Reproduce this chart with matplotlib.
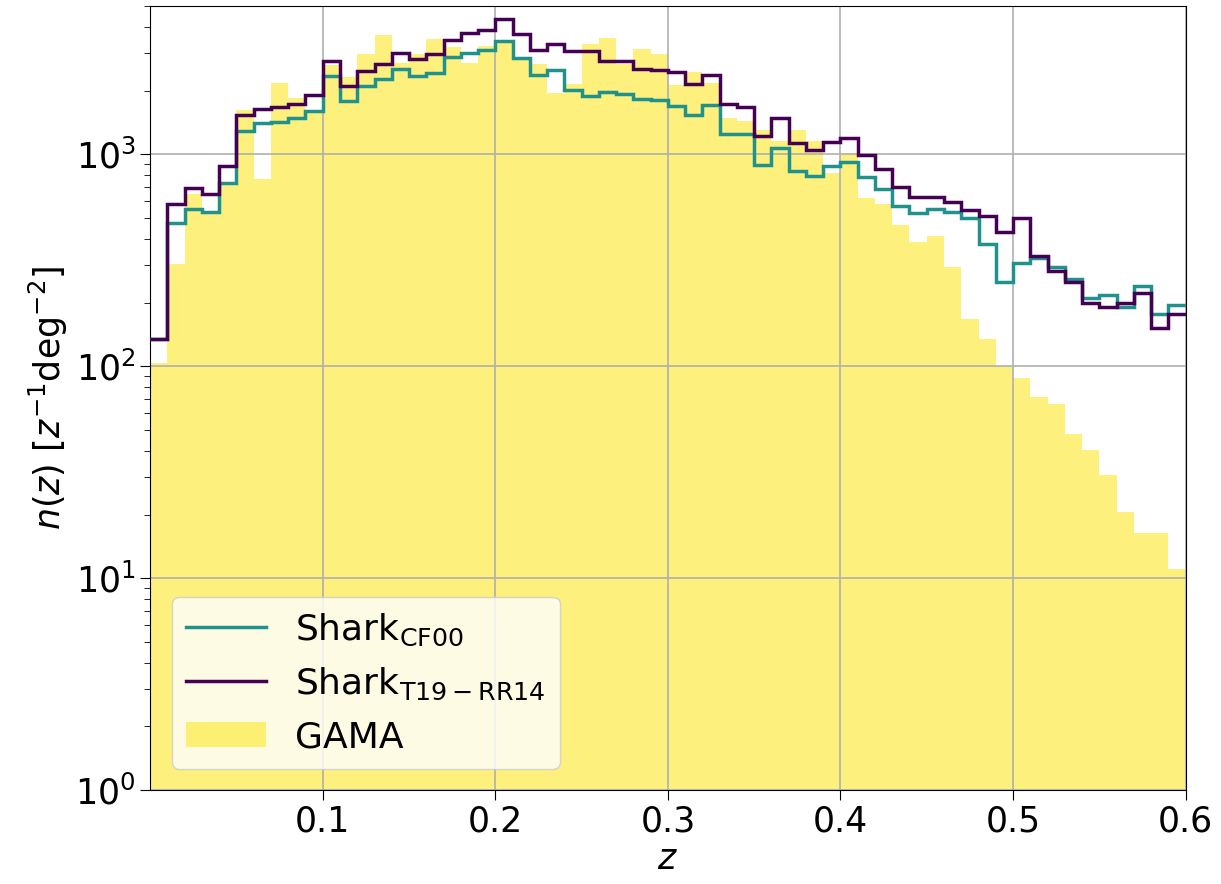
import numpy as np
import matplotlib
matplotlib.use('Agg')
import matplotlib.pyplot as plt

# bordas dos bins em z (largura 0.01)
z_edges = np.linspace(0.0, 0.6, 61)

# n(z), um valor por bin
n_cf00 = [134, 474, 550, 532, 735, 1288, 1406, 1421, 1490, 1601,
          2349, 1784, 2110, 2260, 2536, 2333, 2428, 2878, 3018, 3116,
          3413, 2858, 2358, 2489, 2016, 1878, 1966, 1931, 1815, 1798,
          1683, 1538, 1702, 1243, 1243, 888, 1075, 834, 787, 878,
          920, 782, 684, 569, 528, 552, 535, 502, 376, 250,
          308, 326, 294, 259, 209, 216, 190, 240, 177, 195]

n_t19 = [134, 581, 697, 652, 881, 1528, 1642, 1671, 1723, 1898,
         2754, 2093, 2471, 2679, 3018, 2818, 2965, 3474, 3741, 3846,
         4365, 3704, 3095, 3304, 3062, 3062, 2746, 2746, 2518, 2489,
         2444, 2153, 2358, 1723, 1671, 1219, 1483, 1130, 1045, 1143,
         1197, 989, 855, 701, 629, 629, 595, 545, 510, 429,
         501, 330, 281, 250, 200, 190, 198, 222, 152, 177]

n_gama = [104, 305, 652, 525, 725, 1614, 767, 2170, 1845, 1560,
          2648, 2317, 2986, 3658, 2705, 2965, 3485, 3207, 2692, 3245,
          3350, 2850, 2660, 1945, 2153, 3328, 3540, 2679, 3149, 2965,
          2115, 2444, 2177, 1490, 1436, 1306, 1156, 1298, 1156, 816,
          1014, 625, 585, 462, 386, 410, 294, 168, 135, 100,
          88.5, 72, 66.7, 48.1, 40.5, 30.6, 20.6, 16.3, 16.3, 11.1]

fig = plt.figure(figsize=(12.21, 8.84), dpi=100)
ax = fig.add_axes([0.123, 0.106, 0.848, 0.887])

ax.stairs(n_gama, z_edges, fill=True, color='#fde725', alpha=0.6,
          lw=1.5, label='GAMA', baseline=1e-3)
ax.stairs(n_cf00, z_edges, color='#21918c', lw=2.5, baseline=None,
          label=r'Shark$_{\rm CF00}$', zorder=3)
ax.stairs(n_t19, z_edges, color='#440154', lw=2.5, baseline=None,
          label=r'Shark$_{\rm T19-RR14}$', zorder=3)

ax.set_yscale('log')
ax.set_xlim(0, 0.6)
ax.set_ylim(1, 5000)
ax.set_xticks([0.1, 0.2, 0.3, 0.4, 0.5, 0.6])
ax.tick_params(axis='both', which='major', labelsize=25, length=7)
ax.tick_params(axis='y', which='minor', length=4)
ax.grid(True, which='major', color='#b0b0b0', lw=1.2)

ax.set_xlabel(r'$z$', fontsize=25, labelpad=2)
ax.set_ylabel(r'$n(z)\ [z^{-1}{\rm deg}^{-2}]$', fontsize=25)

handles, labels = ax.get_legend_handles_labels()
order = [1, 2, 0]
ax.legend([handles[i] for i in order], [labels[i] for i in order],
          loc='lower left', fontsize=26, framealpha=0.8,
          borderaxespad=0.6, handlelength=2.2)

plt.savefig('out.png')
